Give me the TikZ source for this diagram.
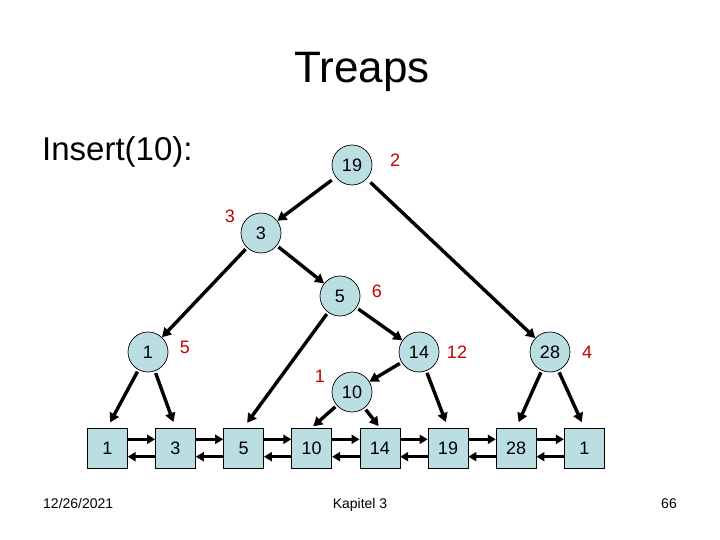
\documentclass[tikz,border=0pt]{standalone}
\usepackage{fontspec}
\setmainfont{Liberation Sans}
\usetikzlibrary{arrows.meta}
\definecolor{nodeblue}{RGB}{187,222,227}
\definecolor{prired}{RGB}{196,0,0}
\tikzset{
	tnode/.style={circle, draw=black, line width=0.7pt, fill=nodeblue, minimum size=40pt, inner sep=0pt, font=\fontsize{18}{20}\selectfont},
	lnode/.style={rectangle, draw=black, line width=0.7pt, fill=nodeblue, minimum size=40pt, inner sep=0pt, font=\fontsize{18}{20}\selectfont},
	prio/.style={text=prired, font=\fontsize{18}{20}\selectfont},
	arr/.style={line width=3.4pt, -{Triangle[length=9pt,width=10pt]}, shorten <=2pt},
	harr/.style={line width=3.4pt, -{Triangle[length=8pt,width=9pt]}},
}

\begin{document}
\begin{tikzpicture}[x=1pt, y=-1pt]
			%%%%% START %%%%%
			\useasboundingbox[fill=white] (0, 0) rectangle (720, 540);
			
			\node[anchor=base, font=\fontsize{44}{48}\selectfont] (title) at (362, 83) {Treaps};
			\node[anchor=base west, inner sep=0pt, font=\fontsize{33}{36}\selectfont] (ins) at (42, 161) {Insert(10):};
			
			\node[tnode] (r19) at (352, 165) {19};
			\node[tnode] (c3) at (261, 233) {3};
			\node[tnode] (c5) at (340, 296) {5};
			\node[tnode] (c1) at (148, 352) {1};
			\node[tnode] (c14) at (419, 352) {14};
			\node[tnode] (c28) at (550, 352) {28};
			\node[tnode] (c10) at (352, 392) {10};
			
			\node[prio] (p19) at (395, 160) {2};
			\node[prio] (p3) at (230, 216) {3};
			\node[prio] (p5) at (377, 291) {6};
			\node[prio] (p1) at (185, 347) {5};
			\node[prio] (p10) at (320, 376) {1};
			\node[prio] (p14) at (457, 352) {12};
			\node[prio] (p28) at (587, 352) {4};
			
			\foreach \v [count=\i from 0] in {1, 3, 5, 10, 14, 19, 28, 1}
				\node[lnode] (b\i) at (107.3 + 68.14*\i, 448) {\v};
			
			\foreach \i in {0,...,6} {
				\pgfmathtruncatemacro{\j}{\i + 1}
				\draw[harr] ([yshift=8.7pt]b\i.east) -- ([yshift=8.7pt]b\j.west);
				\draw[harr] ([yshift=-8.7pt]b\j.west) -- ([yshift=-8.7pt]b\i.east);
			}
			
			\draw[arr, shorten <=5pt] (r19) -- (c3);
			\draw[arr, shorten <=5pt] (r19) -- (c28);
			\draw[arr] (c3) -- (c1);
			\draw[arr] (c3) -- (c5);
			\draw[arr] (c5) -- (c14);
			\draw[arr] (c14) -- (c10);
			
			\draw[arr, shorten >=6pt] (c5) -- (b2.north);
			\draw[arr, shorten >=6pt] (c1) -- (b0.north);
			\draw[arr, shorten >=6pt] (c1) -- (b1.north);
			\draw[arr, shorten >=2pt] (c10) -- (b3.north);
			\draw[arr, shorten >=2pt] (c10) -- (b4.north);
			\draw[arr, shorten >=6pt] (c14) -- (b5.north);
			\draw[arr, shorten >=6pt] (c28) -- (b6.north);
			\draw[arr, shorten >=6pt] (c28) -- (b7.north);
			
			\node[anchor=base west, inner sep=0pt, font=\fontsize{14}{16}\selectfont] (date) at (43, 508) {12/26/2021};
			\node[anchor=base, inner sep=0pt, font=\fontsize{14}{16}\selectfont] (chap) at (360, 508) {Kapitel 3};
			\node[anchor=base east, inner sep=0pt, font=\fontsize{14}{16}\selectfont] (page) at (677, 508) {66};
			%%%%% END %%%%%
\end{tikzpicture}
\end{document}
